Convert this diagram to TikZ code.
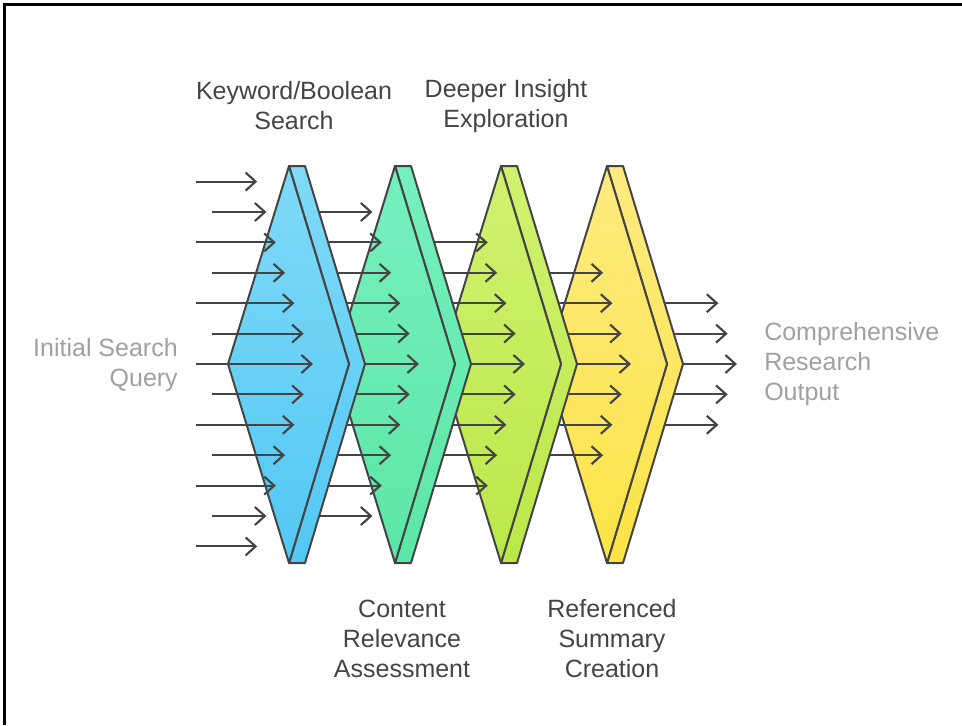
\documentclass[tikz,border=0pt]{standalone}
\usepackage{fontspec}
\setmainfont{Liberation Sans}
\usetikzlibrary{arrows.meta,calc}
\usepackage{xcolor}
\definecolor{Ink}{RGB}{68,68,68}
\definecolor{Faded}{RGB}{160,160,160}
\definecolor{SkyTop}{RGB}{128,218,248}
\definecolor{SkyBot}{RGB}{82,200,244}
\definecolor{MintTop}{RGB}{118,240,190}
\definecolor{MintBot}{RGB}{92,230,165}
\definecolor{LimeTop}{RGB}{208,242,112}
\definecolor{LimeBot}{RGB}{186,232,72}
\definecolor{SunTop}{RGB}{255,234,128}
\definecolor{SunBot}{RGB}{252,228,70}
\tikzset{
  flow/.style={-{Straight Barb[length=7.5pt,width=13.5pt]},Ink,line width=1.6pt},
  prism/.style={draw=Ink,line width=1.5pt,line join=round},
  stagelbl/.style={font=\fontsize{18.75}{22.5}\selectfont,text=Ink,
                   align=center,inner sep=0pt},
  endlbl/.style={stagelbl,text=Faded},
  frameline/.style={black,line width=2.2pt},
}

\begin{document}
\begin{tikzpicture}[x=0.75pt,y=-0.75pt]
  \useasboundingbox (0,0) rectangle (962,725);
  \draw[frameline] (4.5,725) -- (4.5,4.5) -- (962,4.5);
  %
  % stages, drawn right to left so each one covers the next
  \foreach \k/\ct/\cb in {3/SunTop/SunBot,2/LimeTop/LimeBot,
                          1/MintTop/MintBot,0/SkyTop/SkyBot}{
    \pgfmathsetmacro\cx{289+106*\k}
    \pgfmathtruncatemacro\n{5-\k}
    \foreach \d in {-\n,...,\n}{
      \pgfmathsetmacro\tip{313+106*(\k+1)-9.3*abs(\d)}
      \draw[flow] (\cx,364+30.4*\d) -- (\tip,364+30.4*\d);
    }
    \draw[prism,top color=\ct,bottom color=\cb]
      (\cx,166) -- (\cx+16,166) -- (\cx+76,364) -- (\cx+16,563)
      -- (\cx,563) -- (\cx+60,364) -- cycle;
    \draw[prism,top color=\ct,bottom color=\cb]
      (\cx,166) -- (\cx+60,364) -- (\cx,563) -- (\cx-61,364) -- cycle;
  }
  % incoming arrows
  \foreach \d in {-6,...,6}{
    \pgfmathsetmacro\sx{ifthenelse(isodd(\d),212,196)}
    \pgfmathsetmacro\tip{313-9.3*abs(\d)}
    \draw[flow] (\sx,364+30.4*\d) -- (\tip,364+30.4*\d);
  }
  %
  \node[stagelbl] (kw) at (294,106) {Keyword/Boolean\\Search};
  \node[stagelbl] (dp) at (506,106) {Deeper Insight\\Exploration};
  \node[stagelbl] (cr) at (402,639) {Content\\Relevance\\Assessment};
  \node[stagelbl] (rs) at (612,639) {Referenced\\Summary\\Creation};
  \node[endlbl,align=right,anchor=east] (in) at (178,365) {Initial Search\\Query};
  \node[endlbl,align=left,anchor=west] (out) at (764,364)
    {Comprehensive\\Research\\Output};
\end{tikzpicture}
\end{document}
